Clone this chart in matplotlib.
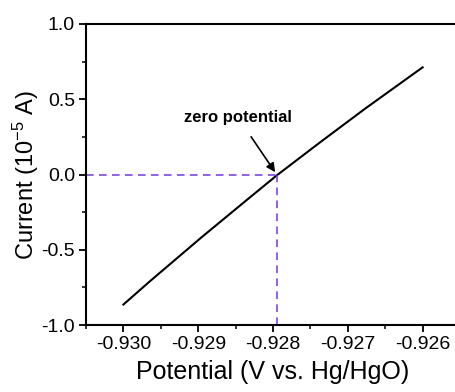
import matplotlib
matplotlib.use("Agg")
import matplotlib.pyplot as plt
from matplotlib.ticker import MultipleLocator, FormatStrFormatter

plt.rcParams["font.family"] = ["Liberation Sans", "DejaVu Sans"]
plt.rcParams["mathtext.fontset"] = "custom"
plt.rcParams["mathtext.rm"] = "Liberation Sans"
plt.rcParams["mathtext.it"] = "Liberation Sans"

# values
potential = [-0.93000, -0.92964, -0.92895, -0.92835, -0.92795,
             -0.92737, -0.92677, -0.92600]
current = [-0.864, -0.707, -0.415, -0.169, -0.006, 0.214, 0.437, 0.712]
zero_x = -0.92795
zero_y = 0.0

PURPLE = "#7436e0"

fig = plt.figure(figsize=(4.56, 3.92), dpi=100)
ax = fig.add_axes([86 / 456, 1 - 325 / 392, 374 / 456, 301 / 392])

ax.plot(potential, current, color="black", linewidth=1.5)

ax.plot([-0.9305, zero_x], [zero_y, zero_y], color=PURPLE,
        linestyle=(0, (5, 3.5)), linewidth=1.1, clip_on=False)
ax.plot([zero_x, zero_x], [-1.0, zero_y], color=PURPLE,
        linestyle=(0, (5, 3.5)), linewidth=1.1)

ax.annotate("zero potential", xy=(zero_x, zero_y), xytext=(-0.92847, 0.38),
            ha="center", va="center", fontsize=12, fontweight="bold",
            arrowprops=dict(arrowstyle="-|>", color="black", lw=1.2,
                            mutation_scale=13, shrinkA=8, shrinkB=2))

ax.set_xlim(-0.9305, -0.9255)
ax.set_ylim(-1.0, 1.0)
ax.xaxis.set_major_locator(MultipleLocator(0.001))
ax.xaxis.set_minor_locator(MultipleLocator(0.0005))
ax.yaxis.set_major_locator(MultipleLocator(0.5))
ax.yaxis.set_minor_locator(MultipleLocator(0.25))
ax.xaxis.set_major_formatter(FormatStrFormatter("%.3f"))
ax.yaxis.set_major_formatter(FormatStrFormatter("%.1f"))

ax.tick_params(which="major", direction="out", length=5, width=1.3,
               labelsize=14, pad=3)
ax.tick_params(which="minor", direction="out", length=3, width=1.1)
ax.tick_params(top=False, right=False, which="both")
for s in ax.spines.values():
    s.set_linewidth(1.5)

ax.set_xlabel("Potential (V vs. Hg/HgO)", fontsize=18, labelpad=5)
ax.set_ylabel("Current (10$^{\\mathregular{-5}}$ A)", fontsize=17, labelpad=0)

fig.savefig("out.png", dpi=100, facecolor="white")
